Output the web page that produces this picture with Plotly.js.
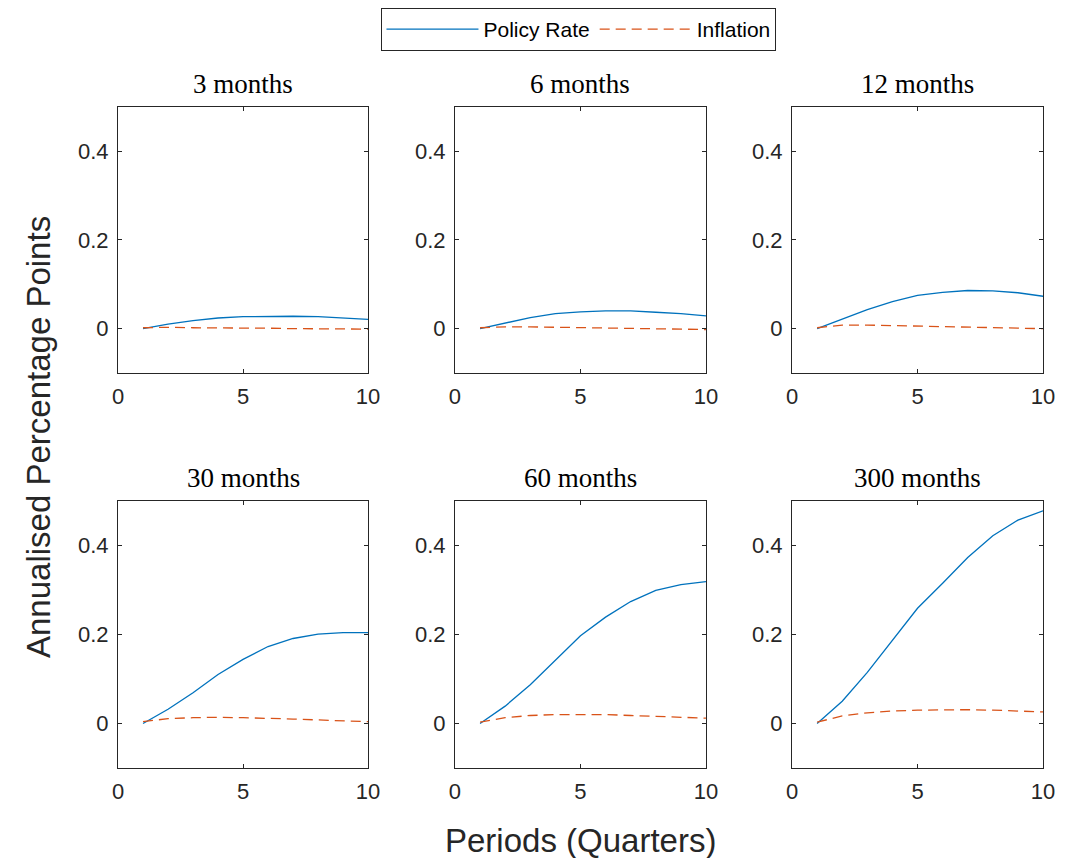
<!DOCTYPE html>
<html>
<head>
<meta charset="utf-8">
<script src="https://cdn.plot.ly/plotly-3.0.1.min.js"></script>
<style>html,body{margin:0;padding:0;background:#fff;}#chart{width:1069px;height:858px;}</style>
</head>
<body>
<div id="chart"></div>
<script>
// ---- Data ----
const periods = [1, 2, 3, 4, 5, 6, 7, 8, 9, 10];
const panelTitles = ["3 months", "6 months", "12 months", "30 months", "60 months", "300 months"];
const seriesNames = ["Policy Rate", "Inflation"];

const policy3   = [0.000, 0.010, 0.018, 0.024, 0.027, 0.028, 0.028, 0.027, 0.024, 0.021];
const inflation3 = [0.002, 0.003, 0.002, 0.002, 0.001, 0.001, 0.000, 0.000, -0.001, -0.001];

const policy6   = [0.000, 0.013, 0.025, 0.034, 0.038, 0.040, 0.040, 0.037, 0.034, 0.029];
const inflation6 = [0.002, 0.004, 0.004, 0.003, 0.002, 0.001, 0.000, -0.001, -0.001, -0.002];

const policy12   = [0.000, 0.022, 0.043, 0.061, 0.075, 0.082, 0.086, 0.085, 0.081, 0.073];
const inflation12 = [0.002, 0.008, 0.008, 0.007, 0.006, 0.004, 0.003, 0.002, 0.001, 0.000];

const policy30   = [0.000, 0.032, 0.069, 0.110, 0.144, 0.173, 0.191, 0.201, 0.204, 0.204];
const inflation30 = [0.004, 0.011, 0.013, 0.014, 0.013, 0.012, 0.010, 0.008, 0.006, 0.004];

const policy60   = [0.000, 0.039, 0.087, 0.143, 0.197, 0.239, 0.274, 0.299, 0.312, 0.319];
const inflation60 = [0.003, 0.013, 0.018, 0.020, 0.020, 0.020, 0.018, 0.016, 0.014, 0.012];

const policy300   = [0.000, 0.050, 0.115, 0.187, 0.259, 0.315, 0.373, 0.422, 0.457, 0.478];
const inflation300 = [0.003, 0.017, 0.024, 0.028, 0.030, 0.031, 0.031, 0.030, 0.028, 0.026];

const xTicks = [0, 5, 10];
const yTicks = [0, 0.2, 0.4];
const yTickText = ["0", "0.2", "0.4"];

// ---- Build ----
const policyList = [policy3, policy6, policy12, policy30, policy60, policy300];
const inflationList = [inflation3, inflation6, inflation12, inflation30, inflation60, inflation300];

const blue = "#0072BD", orange = "#D95319", axisCol = "#262626";
const sans = "Liberation Sans, Arial, sans-serif";
const serif = "Liberation Serif, DejaVu Serif, serif";

const xDomains = [[0.1104, 0.3443], [0.4256, 0.6604], [0.7409, 0.9757]];
const yDomains = [[0.5653, 0.8753], [0.1049, 0.4161]];

const traces = [];
const layout = {
  width: 1069, height: 858,
  margin: {l: 0, r: 0, t: 0, b: 0},
  paper_bgcolor: "#fff", plot_bgcolor: "#fff",
  showlegend: true,
  legend: {
    orientation: "h", x: 0.5416, xanchor: "center", y: 0.9907, yanchor: "top",
    bordercolor: axisCol, borderwidth: 1, bgcolor: "#fff",
    font: {family: sans, size: 21, color: "#000"},
    itemwidth: 92, tracegroupgap: 0
  },
  annotations: []
};

for (let i = 0; i < 6; i++) {
  const r = Math.floor(i / 3), c = i % 3;
  const n = i + 1;
  const xa = "x" + (n === 1 ? "" : n), ya = "y" + (n === 1 ? "" : n);
  traces.push({
    x: periods, y: policyList[i], xaxis: xa, yaxis: ya, type: "scatter", mode: "lines",
    name: seriesNames[0], legendgroup: "p", showlegend: i === 0,
    line: {color: blue, width: 1.3}
  });
  traces.push({
    x: periods, y: inflationList[i], xaxis: xa, yaxis: ya, type: "scatter", mode: "lines",
    name: seriesNames[1], legendgroup: "i", showlegend: i === 0,
    line: {color: orange, width: 1.3, dash: "10px,6px"}
  });
  const axCommon = {
    showgrid: false, zeroline: false, showline: true, mirror: "ticks",
    linecolor: axisCol, linewidth: 1, ticks: "inside", ticklen: 4, tickwidth: 1,
    tickcolor: axisCol, tickfont: {family: sans, size: 22, color: axisCol}, fixedrange: true
  };
  layout["xaxis" + (n === 1 ? "" : n)] = Object.assign({}, axCommon, {
    domain: xDomains[c], range: [0, 10], tickvals: xTicks, anchor: ya,
    ticklabelstandoff: 4
  });
  layout["yaxis" + (n === 1 ? "" : n)] = Object.assign({}, axCommon, {
    domain: yDomains[r], range: [-0.1, 0.5], tickvals: yTicks, ticktext: yTickText,
    anchor: xa, ticklabelstandoff: 4
  });
  layout.annotations.push({
    text: panelTitles[i], xref: "paper", yref: "paper",
    x: (xDomains[c][0] + xDomains[c][1]) / 2, y: yDomains[r][1] + 0.007,
    xanchor: "center", yanchor: "bottom", showarrow: false,
    font: {family: serif, size: 27, color: "#000"}
  });
}

layout.annotations.push({
  text: "Annualised Percentage Points", xref: "paper", yref: "paper",
  x: 38 / 1069, y: 1 - 437 / 858, xanchor: "center", yanchor: "middle",
  textangle: -90, showarrow: false, font: {family: sans, size: 33, color: axisCol}
});
layout.annotations.push({
  text: "Periods (Quarters)", xref: "paper", yref: "paper",
  x: 580 / 1069, y: 1 - 840 / 858, xanchor: "center", yanchor: "middle",
  showarrow: false, font: {family: sans, size: 33, color: axisCol}
});

Plotly.newPlot("chart", traces, layout, {displayModeBar: false, staticPlot: true});
</script>
</body>
</html>
